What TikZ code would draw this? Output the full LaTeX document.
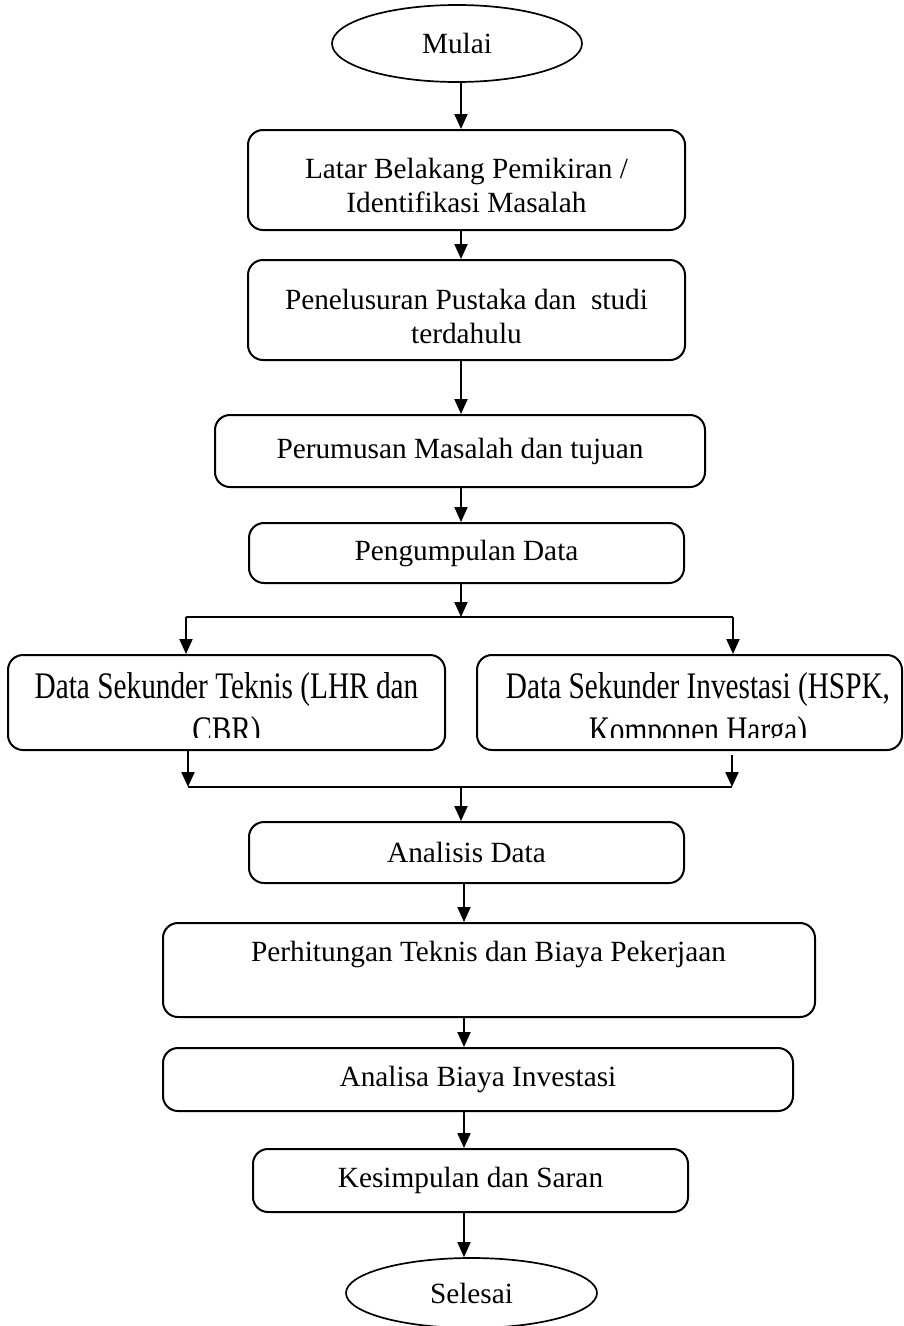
\documentclass[tikz,border=0pt]{standalone}
\usepackage{fontspec}
\setmainfont{Liberation Serif}
\usetikzlibrary{shapes.geometric,arrows.meta}
\newcommand{\tallline}[1]{\scalebox{1}[1.28]{\begin{tabular}{@{}c@{}}#1\end{tabular}}}
\begin{document}
\begin{tikzpicture}[x=1pt,y=-1pt,
  every node/.style={font=\fontsize{29.3}{34}\selectfont, inner sep=0pt},
  stepbox/.style={draw, line width=2pt, rounded corners=15pt, align=center},
  term/.style={draw, line width=1.7pt, ellipse},
  arr/.style={line width=2pt, -{Triangle[length=15pt,width=13pt]}},
  ln/.style={line width=2pt}]
\useasboundingbox (0,0) rectangle (904,1326);
\coordinate (mid) at (461,0);

\node[term, minimum width=250pt, minimum height=77pt] (start) at (457,43.5) {Mulai};
\node[stepbox, minimum width=437pt, minimum height=100pt] (b1) at (466.5,180) {};
\node[align=center] (b1t) at (466.5,185) {Latar Belakang Pemikiran /\\Identifikasi Masalah};
\node[stepbox, minimum width=437pt, minimum height=100pt] (b2) at (466.5,310) {};
\node[align=center] (b2t) at (466.5,316) {Penelusuran Pustaka dan\ \ studi\\terdahulu};
\node[stepbox, minimum width=490pt, minimum height=72pt] (b3) at (460,451) {Perumusan Masalah dan tujuan};
\node[stepbox, minimum width=435pt, minimum height=60pt] (b4) at (466.5,553) {Pengumpulan Data};

\node[stepbox, minimum width=437pt, minimum height=95pt] (sl) at (226.5,702.5) {};
\node[stepbox, minimum width=425pt, minimum height=95pt] (sr) at (689.5,702.5) {};
\begin{scope}
  \clip (9,655) rectangle (445,737);
  \node (slt) at (226.5,712) {\tallline{Data Sekunder Teknis (LHR dan\\CBR)}};
\end{scope}
\begin{scope}
  \clip (477,655) rectangle (902,737);
  \node (srt) at (698,712) {\tallline{Data Sekunder Investasi (HSPK,\\Komponen Harga)}};
\end{scope}

\node[stepbox, minimum width=435pt, minimum height=61pt] (b5) at (466.5,852.5) {Analisis Data};
\node[stepbox, minimum width=652pt, minimum height=94pt] (b6) at (489,970) {};
\node (b6t) at (488.5,954) {Perhitungan Teknis dan Biaya Pekerjaan};
\node[stepbox, minimum width=630pt, minimum height=63pt] (b7) at (478,1079.5) {Analisa Biaya Investasi};
\node[stepbox, minimum width=435pt, minimum height=63pt] (b8) at (470.5,1180.5) {Kesimpulan dan Saran};
\node[term, minimum width=251pt, minimum height=70pt] (end) at (471.5,1293) {Selesai};

\draw[arr] (start.south -| mid) -- (b1.north -| mid);
\draw[arr] (b1.south -| mid) -- (b2.north -| mid);
\draw[arr] (b2.south -| mid) -- (b3.north -| mid);
\draw[arr] (b3.south -| mid) -- (b4.north -| mid);

\coordinate (sp) at (461,617);
\coordinate (spL) at (186,617);
\coordinate (spR) at (733,617);
\draw[arr] (b4.south -| mid) -- (sp);
\draw[ln] (spL) -- (spR);
\draw[arr] (spL) -- (sl.north -| spL);
\draw[arr] (spR) -- (sr.north -| spR);

\coordinate (jL) at (188,787);
\coordinate (jR) at (732,787);
\coordinate (jm) at (461,787);
\draw[arr] (sl.south -| jL) -- (jL);
\draw[arr] ([yshift=-4pt]sr.south -| jR) -- (jR);
\draw[ln] (jL) -- (jR);
\draw[arr] (jm) -- (b5.north -| mid);

\coordinate (lo) at (464,0);
\draw[arr] (b5.south -| lo) -- (b6.north -| lo);
\draw[arr] (b6.south -| lo) -- (b7.north -| lo);
\draw[arr] (b7.south -| lo) -- (b8.north -| lo);
\draw[arr] (b8.south -| lo) -- (end.north -| lo);
\end{tikzpicture}
\end{document}
